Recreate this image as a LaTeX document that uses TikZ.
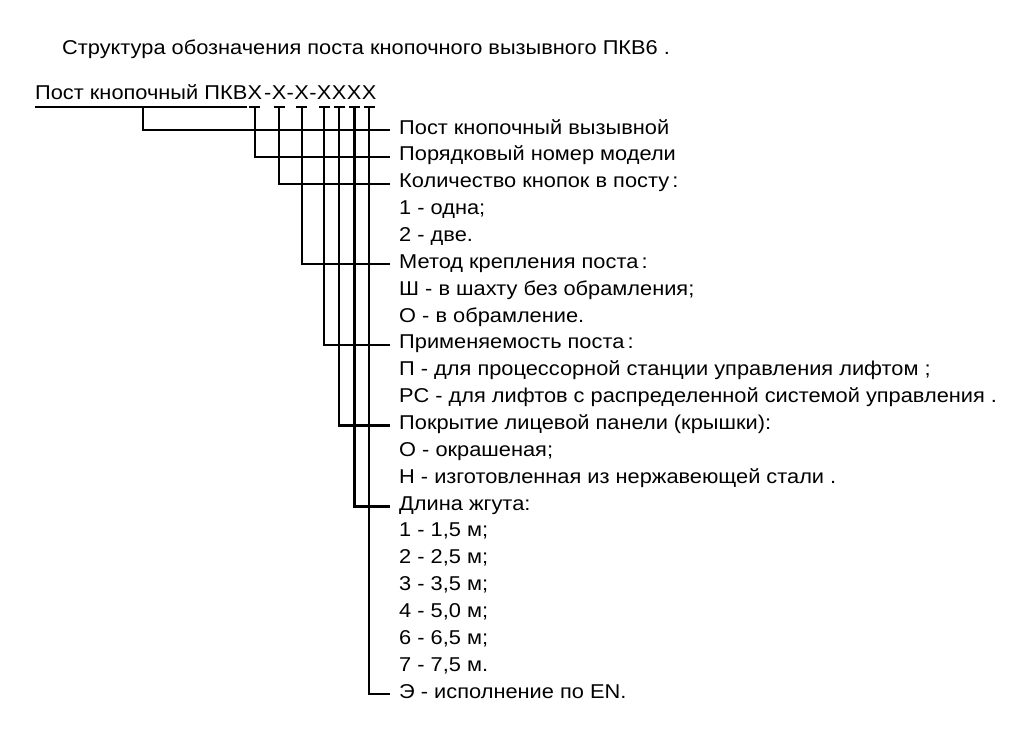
\documentclass[tikz,border=0pt]{standalone}
\usepackage{fontspec}
\setmainfont{Liberation Sans}[FakeStretch=1.09]
\usetikzlibrary{positioning}

\begin{document}
\begin{tikzpicture}[
    x=1pt, y=-1pt,
    every node/.style={inner sep=0pt, font=\fontsize{20}{24}\selectfont},
    item/.style={anchor=base west},
    hd/.style={anchor=base west, text depth=7.5pt},
    lead/.style={line width=2.2pt},
    thicklead/.style={line width=3pt}
  ]
  \useasboundingbox (0,0) rectangle (1024,749);

  \node[item] (title) at (62,55) {Структура обозначения поста кнопочного вызывного ПКВ6 .};

  % designation string
  \node[hd] (hdr) at (35,99.5) {Пост кнопочный ПКВ};
  \node[hd] (x1) at (hdr.base east) {Х};
  \node[hd] (d1) at ([xshift=1.5pt]x1.base east) {-};
  \node[hd] (x2) at (d1.base east) {Х};
  \node[hd] (d2) at (x2.base east) {-};
  \node[hd] (x3) at (d2.base east) {Х};
  \node[hd] (d3) at (x3.base east) {-};
  \node[hd] (x4) at (d3.base east) {Х};
  \node[hd] (x5) at (x4.base east) {Х};
  \node[hd] (x6) at (x5.base east) {Х};
  \node[hd] (x7) at (x6.base east) {Х};
  \coordinate (k0) at ([xshift=108pt]hdr.south west);

  % explanation lines
  \node[item] (l1) at (399,134.0) {Пост кнопочный вызывной};
  \node[item] (l2) at (399,160.9) {Порядковый номер модели};
  \node[item] (l3) at (399,187.7) {Количество кнопок в посту\,:};
  \node[item] (l4) at (399,214.6) {1 - одна;};
  \node[item] (l5) at (399,241.4) {2 - две.};
  \node[item] (l6) at (399,268.3) {Метод крепления поста\,:};
  \node[item] (l7) at (399,295.2) {Ш - в шахту без обрамления;};
  \node[item] (l8) at (399,322.0) {О - в обрамление.};
  \node[item] (l9) at (399,348.9) {Применяемость поста\,:};
  \node[item] (l10) at (399,375.7) {П - для процессорной станции управления лифтом ;};
  \node[item] (l11) at (399,402.6) {РС - для лифтов с распределенной системой управления .};
  \node[item] (l12) at (399,429.5) {Покрытие лицевой панели (крышки):};
  \node[item] (l13) at (399,456.3) {О - окрашеная;};
  \node[item] (l14) at (399,483.2) {Н - изготовленная из нержавеющей стали .};
  \node[item] (l15) at (399,510.0) {Длина жгута:};
  \node[item] (l16) at (399,536.9) {1 - 1,5 м;};
  \node[item] (l17) at (399,563.8) {2 - 2,5 м;};
  \node[item] (l18) at (399,590.6) {3 - 3,5 м;};
  \node[item] (l19) at (399,617.5) {4 - 5,0 м;};
  \node[item] (l20) at (399,644.3) {6 - 6,5 м;};
  \node[item] (l21) at (399,671.2) {7 - 7,5 м.};
  \node[item] (l22) at (399,698.1) {Э - исполнение по EN.};

  % underline and ticks
  \draw[lead] (hdr.south west) -- (hdr.south east);
  \draw[lead] ([xshift=2pt]x1.south west) -- ([xshift=-2pt]x1.south east);
  \draw[lead] ([xshift=2pt]x2.south west) -- ([xshift=-2pt]x2.south east);
  \draw[lead] ([xshift=2pt]x3.south west) -- ([xshift=-2pt]x3.south east);
  \draw[lead] ([xshift=2pt]x4.south west) -- ([xshift=-2pt]x4.south east);
  \draw[lead] ([xshift=2pt]x5.south west) -- ([xshift=-2pt]x5.south east);
  \draw[lead] ([xshift=2pt]x6.south west) -- ([xshift=-2pt]x6.south east);
  \draw[lead] ([xshift=2pt]x7.south west) -- ([xshift=-2pt]x7.south east);

  % branches
  \draw[lead] (k0) |- ([xshift=-9pt,yshift=4pt]l1.base west);
  \draw[lead] (x1.south) |- ([xshift=-9pt,yshift=4pt]l2.base west);
  \draw[lead] (x2.south) |- ([xshift=-9pt,yshift=4pt]l3.base west);
  \draw[lead] (x3.south) |- ([xshift=-9pt,yshift=4pt]l6.base west);
  \draw[lead] (x4.south) |- ([xshift=-9pt,yshift=4pt]l9.base west);
  \draw[lead] (x5.south) |- ([xshift=-9pt,yshift=4pt]l12.base west);
  \draw[thicklead] (x6.south) |- ([xshift=-9pt,yshift=4pt]l15.base west);
  \draw[lead] (x7.south) |- ([xshift=-9pt,yshift=4pt]l22.base west);
\end{tikzpicture}
\end{document}
